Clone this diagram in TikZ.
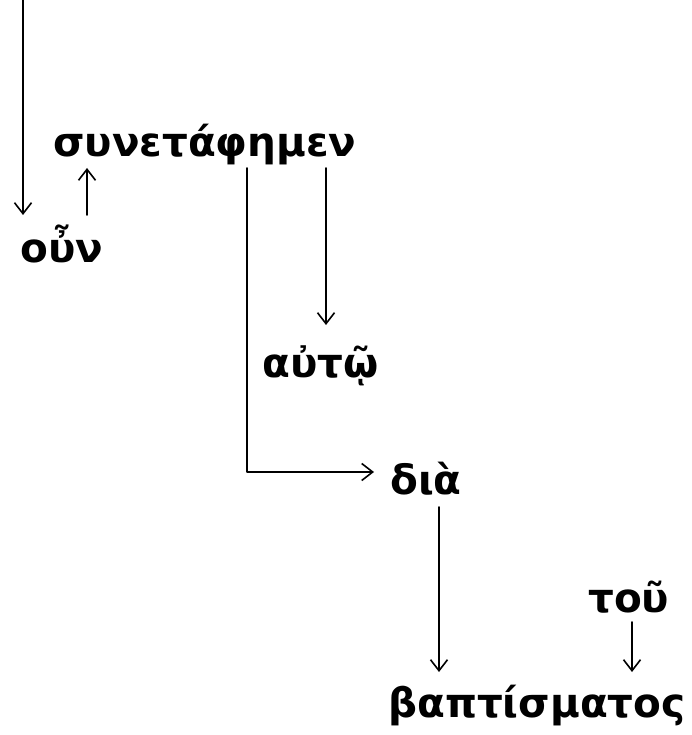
\documentclass[tikz,border=0pt]{standalone}
\usepackage{fontspec}
\setmainfont{DejaVu Sans}
\usetikzlibrary{arrows.meta}
\begin{document}
\begin{tikzpicture}[x=1pt,y=-1pt,
  word/.style={anchor=base west, inner sep=0pt, font=\fontsize{40.5}{42}\selectfont\bfseries},
  arr/.style={line width=1.6pt, line cap=round, line join=round, -{Straight Barb[length=11pt,width=17pt,line width=1.6pt]}}]
\useasboundingbox (0,0) rectangle (691,735);
% words
\node[word] (syn) at (53,157) {συνετάφημεν};
\node[word] (oun) at (20,262) {οὖν};
\node[word] (aut) at (262,377) {αὐτῷ};
\node[word] (dia) at (390,494) {διὰ};
\node[word] (tou) at (588,612) {τοῦ};
\node[word] (bap) at (388,717) {βαπτίσματος};
% connector end points
\coordinate (top) at (23,0);
\coordinate (a1e) at (23,215);
\coordinate (a2s) at (87,215);
\coordinate (a2e) at (87,168);
\coordinate (a3s) at (247,168);
\coordinate (a3c) at (247,472);
\coordinate (a3e) at (374,472);
\coordinate (a4s) at (326,168);
\coordinate (a4e) at (326,325);
\coordinate (a5s) at (439,507);
\coordinate (a5e) at (439,672);
\coordinate (a6s) at (632,622);
\coordinate (a6e) at (632,672);
% connectors
\draw[arr] (top) -- (a1e);
\draw[arr] (a2s) -- (a2e);
\draw[arr] (a3s) -- (a3c) -- (a3e);
\draw[arr] (a4s) -- (a4e);
\draw[arr] (a5s) -- (a5e);
\draw[arr] (a6s) -- (a6e);
\end{tikzpicture}
\end{document}
